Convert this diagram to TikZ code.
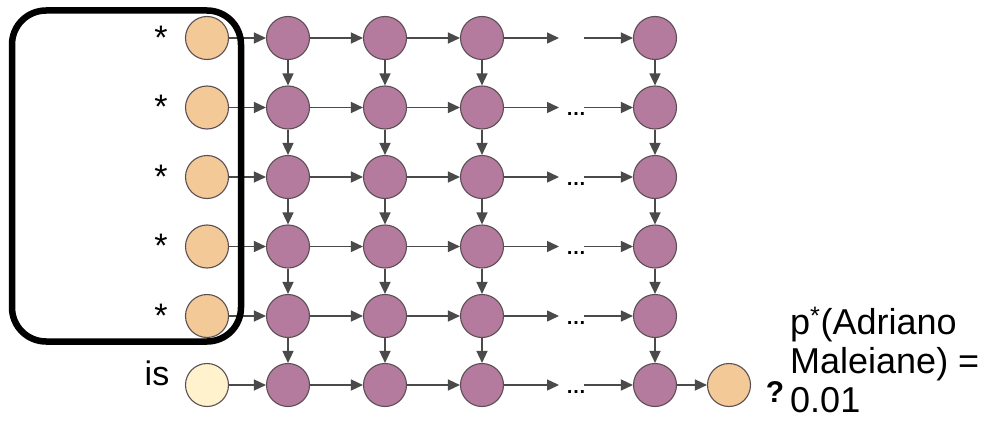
\documentclass[tikz,border=0pt]{standalone}
\usepackage{fontspec}
\setmainfont{Liberation Sans}
\usetikzlibrary{arrows.meta}
\definecolor{purp}{HTML}{B57B9F}
\definecolor{orng}{HTML}{F2C997}
\definecolor{lite}{HTML}{FFF2CC}
\definecolor{edgec}{HTML}{4A4A4A}
\definecolor{rim}{HTML}{5A4E52}
\begin{document}
\begin{tikzpicture}[x=1pt,y=-1pt,
  cnode/.style={circle,draw=rim,line width=1.1pt,minimum size=43pt,inner sep=0pt},
  pnode/.style={cnode,fill=purp},
  onode/.style={cnode,fill=orng},
  lnode/.style={cnode,fill=lite},
  arr/.style={draw=edgec,line width=1.4pt,-{Triangle[length=12pt,width=11pt]}},
  bigtxt/.style={font=\fontsize{34}{39}\selectfont},
  labtxt/.style={font=\fontsize{36}{39}\selectfont},
  dots/.style={font=\fontsize{20}{22}\selectfont\bfseries,inner sep=0pt},
  groupbox/.style={draw=black,line width=6.5pt,rounded corners=34pt,inner sep=0pt}
]
\useasboundingbox (0,0) rectangle (985,428);
\foreach \r/\yy in {1/38,2/107.5,3/177,4/246.5,5/316,6/385}{
  \node[pnode] (p\r-1) at (288,\yy) {};
  \node[pnode] (p\r-2) at (385,\yy) {};
  \node[pnode] (p\r-3) at (482,\yy) {};
  \node[pnode] (p\r-4) at (655,\yy) {};
  \coordinate (a\r) at (559,\yy);
  \coordinate (b\r) at (584,\yy);
}
\foreach \r/\yy in {1/38,2/107.5,3/177,4/246.5,5/316}{
  \node[onode] (o\r) at (207,\yy) {};
  \node[bigtxt,anchor=base] (s\r) at (161,\yy+11) {*};
}
\node[lnode] (o6) at (207,385) {};
\node[bigtxt,anchor=base] (is) at (157,385) {is};
\node[onode] (fin) at (729,385) {};
\foreach \r/\yy in {2/107.5,3/177,4/246.5,5/316,6/385}{
  \node[dots,anchor=base] (d\r) at (576,\yy+8) {…};
}
\foreach \r in {1,...,6}{
  \draw[arr] (o\r) -- (p\r-1);
  \draw[arr] (p\r-1) -- (p\r-2);
  \draw[arr] (p\r-2) -- (p\r-3);
  \draw[arr] (p\r-3) -- (a\r);
  \draw[arr] (b\r) -- (p\r-4);
}
\foreach \c in {1,...,4}{
  \foreach \r/\n in {1/2,2/3,3/4,4/5,5/6}{
    \draw[arr] (p\r-\c) -- (p\n-\c);
  }
}
\draw[arr] (p6-4) -- (fin);
\node[font=\fontsize{30}{32}\selectfont\bfseries,anchor=base] (q) at (775,402) {?};
\node[labtxt,align=left,anchor=west,inner sep=0pt] (lab) at (790,360) {p\textsuperscript{*}(Adriano\\Maleiane) =\\0.01};
\node[groupbox,minimum width=229pt,minimum height=331pt] (grp) at (126.5,176) {};
\end{tikzpicture}
\end{document}
